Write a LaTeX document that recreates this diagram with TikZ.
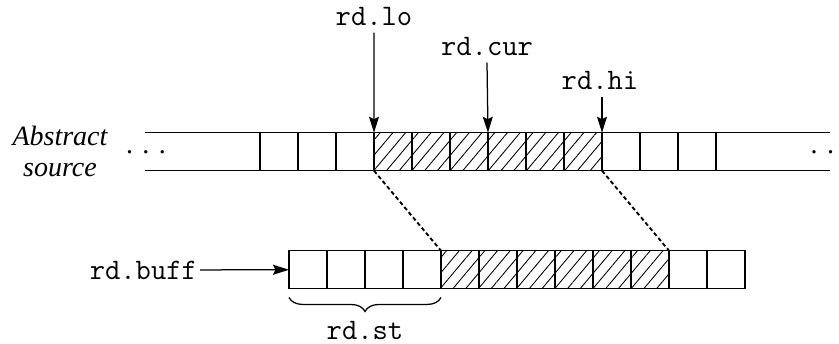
\documentclass[tikz,border=0pt]{standalone}
\usepackage{fontspec}
\setmainfont{Liberation Serif}
\usetikzlibrary{arrows.meta,patterns.meta,decorations.pathreplacing}

\tikzset{
  cell/.style={draw,line width=.6pt,minimum size=15.2pt,inner sep=0pt,outer sep=0pt},
  hatch/.style={pattern={Lines[angle=50,distance=3.9pt,line width=.35pt]}},
  lbl/.style={font=\fontsize{11.9pt}{13pt}\selectfont\ttfamily,inner sep=2.8pt},
  ptr/.style={-{Stealth[length=6.4pt,width=4pt,inset=1pt]},line width=.5pt},
}

\begin{document}
\begin{tikzpicture}[x=.4pt,y=-.4pt]
        \useasboundingbox (0,0) rectangle (839,343);
        % abstract source
        \node[align=center,font=\fontsize{11.2pt}{12.4pt}\selectfont\itshape] (src) at (60,151.5) {Abstract\\source};
        \draw[line width=.6pt] (145,132.7) -- (830,132.7) (145,170.7) -- (830,170.7);
        \node[anchor=base,inner sep=0pt,font=\fontsize{11.2pt}{12pt}\selectfont] (ldots) at (146,153.5) {. . .};
        \node[anchor=base,inner sep=0pt,font=\fontsize{11.2pt}{12pt}\selectfont] (rdots) at (830.5,153.5) {. . .};
        \foreach \i in {1,...,12} \node[cell] (u\i) at ({241+38*\i},151.7) {};
        \fill[hatch] (u4.north west) rectangle (u9.south east);
        % buffer
        \foreach \i in {1,...,12} \node[cell] (b\i) at ({270+38*\i},269.7) {};
        \fill[hatch] (b5.north west) rectangle (b10.south east);
        \draw[line width=.75pt,dash pattern=on 1.6pt off 1.1pt] (u4.south west) -- (b5.north west) (u9.south east) -- (b10.north east);
        % pointers
        \node[lbl,anchor=base] (lo) at (374,25) {rd.lo};
        \node[lbl,anchor=base] (cur) at (487,55) {rd.cur};
        \node[lbl,anchor=base] (hi) at (600,89) {rd.hi};
        \draw[ptr] (lo.south) -- (u4.north west);
        \draw[ptr] (cur.south) -- (u7.north west);
        \draw[ptr] (u9.north east |- hi.south) -- (u9.north east);
        \node[lbl,anchor=east,inner sep=1pt] (buff) at (200,270) {rd.buff};
        \draw[ptr] (buff) -- (b1);
        \draw[decorate,decoration={brace,mirror,amplitude=5.6pt,raise=3.5pt},line width=.5pt] (b1.south west) -- (b4.south east);
        \node[lbl,anchor=base] (st) at (365,339) {rd.st};
\end{tikzpicture}
\end{document}
